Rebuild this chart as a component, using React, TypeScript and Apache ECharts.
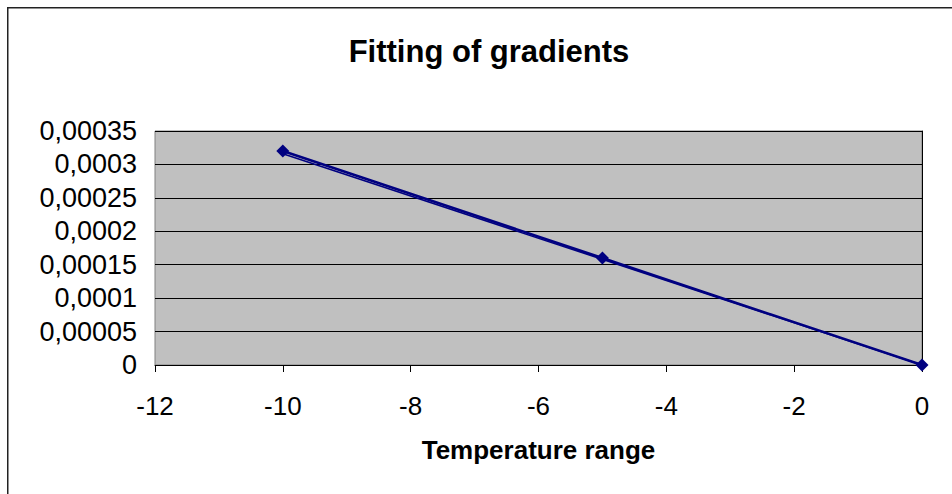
import React, { useEffect, useRef } from "react";
import * as echarts from "echarts";

const chartTitle = "Fitting of gradients";
const xAxisTitle = "Temperature range";
const xTicks = [-12, -10, -8, -6, -4, -2, 0];
const dataX = [-10, -5, 0];
const dataY = [0.00032, 0.00016, 0];
const trendX = [-10, 0];
const trendY = [0.000316, 0];

const FONT = "'Liberation Sans', Arial, sans-serif";

export default function App() {
  const ref = useRef<HTMLDivElement>(null);
  useEffect(() => {
    if (!ref.current) return;
    const chart = echarts.init(ref.current, null, { renderer: "svg" });
    chart.setOption({
      animation: false,
      backgroundColor: "#ffffff",
      title: {
        text: chartTitle,
        left: 477,
        top: 24,
        textAlign: "center",
        textStyle: { fontFamily: FONT, fontSize: 31, fontWeight: "bold", color: "#000" },
      },
      graphic: [
        {
          type: "rect",
          shape: { x: 0.5, y: 0.5, width: 3000, height: 3000 },
          style: { fill: "none", stroke: "#222", lineWidth: 2 },
          silent: true,
        },
      ],
      grid: {
        left: 148,
        right: 30,
        top: 124,
        bottom: 129,
        show: true,
        backgroundColor: "#C0C0C0",
        borderColor: "#808080",
        borderWidth: 1,
      },
      xAxis: {
        type: "value",
        min: xTicks[0],
        max: xTicks[xTicks.length - 1],
        interval: 2,
        name: xAxisTitle,
        nameLocation: "middle",
        nameGap: 72,
        nameTextStyle: { fontFamily: FONT, fontSize: 26, fontWeight: "bold", color: "#000" },
        axisLine: { show: true, onZero: false, lineStyle: { color: "#000", width: 1 } },
        axisTick: { show: true, length: 7, lineStyle: { color: "#000" } },
        axisLabel: { margin: 28, fontFamily: FONT, fontSize: 26, color: "#000" },
        splitLine: { show: false },
      },
      yAxis: {
        type: "value",
        min: 0,
        max: 0.00035,
        interval: 0.00005,
        axisLine: { show: true, lineStyle: { color: "#000", width: 1 } },
        axisTick: { show: true, length: 7, lineStyle: { color: "#000" } },
        axisLabel: {
          margin: 18,
          fontFamily: FONT,
          fontSize: 27,
          color: "#000",
          formatter: (v: number) => parseFloat(v.toFixed(6)).toString().replace(".", ","),
        },
        splitLine: { show: true, lineStyle: { color: "#000", width: 1 } },
      },
      series: [
        {
          type: "line",
          data: trendX.map((x, i) => [x, trendY[i]]),
          showSymbol: false,
          symbol: "none",
          lineStyle: { color: "#000080", width: 1.5 },
          z: 3,
        },
        {
          type: "line",
          data: dataX.map((x, i) => [x, dataY[i]]),
          symbol: "diamond",
          symbolSize: 13,
          itemStyle: { color: "#000080" },
          lineStyle: { color: "#000080", width: 2.5 },
          z: 4,
        },
      ],
    });
    return () => chart.dispose();
  }, []);
  return (
    <div
      ref={ref}
      style={{ position: "fixed", left: 7, top: 7, width: 945, height: 487 }}
    />
  );
}
